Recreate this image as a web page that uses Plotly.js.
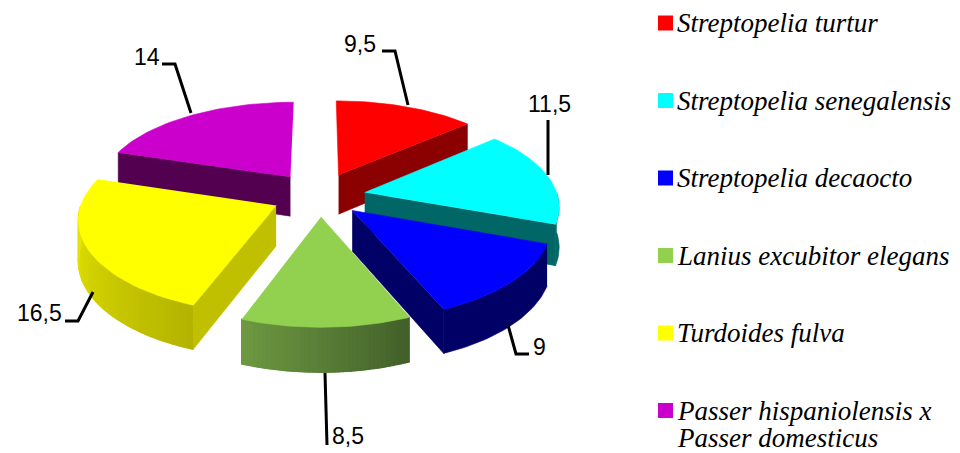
<!DOCTYPE html>
<html><head><meta charset="utf-8">
<script src="https://cdn.plot.ly/plotly-3.0.1.min.js"></script>
<style>html,body{margin:0;padding:0;background:#fff;overflow:hidden}</style>
</head><body><div id="chart" style="width:960px;height:453px"></div>
<script>
const categories = ["Streptopelia turtur","Streptopelia senegalensis","Streptopelia decaocto","Lanius excubitor elegans","Turdoides fulva","Passer hispaniolensis x<br>Passer domesticus"];
const values = [9.5,11.5,9,8.5,16.5,14];
const valueLabels = ["9,5","11,5","9","8,5","16,5","14"];
const topColors = ["#FF0000","#00FFFF","#0000FF","#92D050","#FFFF00","#CC00CC"];
const wallColors = ["#8B0000","#006666","#000066","#6B9440","#C0C000","#52004F"];
const rimLeft = ["#8B0000","#006666","#000066","#6F9A42","#E8E800","#52004F"];
const rimRight = ["#8B0000","#006666","#000066","#42602A","#B4B400","#52004F"];
// style of the projection
const C=[322,192], EXPLODE=0.21;
const nudge=[[0,0],[3,4],[0,5],[-2,5],[-9,5],[-8,0]];
const sx=w=>193+26*w, sy=w=>92+13*w, depth=w=>40+4*w;
const total=values.reduce((a,b)=>a+b,0);
const rad=Math.PI/180;
const traces=[];
function poly(pts,color,lw){traces.push({type:"scatter",mode:"lines",x:pts.map(p=>p[0]),y:pts.map(p=>p[1]),fill:"toself",fillcolor:color,line:{color:color,width:lw===undefined?0.6:lw},hoverinfo:"skip",showlegend:false});}
function mix(a,b,t){const p=s=>[1,3,5].map(i=>parseInt(s.substr(i,2),16));const A=p(a),B=p(b);return "rgb("+A.map((v,i)=>Math.round(v+(B[i]-v)*t)).join(",")+")";}
let cum=0; const slices=values.map((v,i)=>{const a=cum; cum+=v/total*360; return {i,a,b:cum,mid:(a+cum)/2};});
function slicePts(s){
  const ex=EXPLODE*Math.sin(s.mid*rad), ew=-EXPLODE*Math.cos(s.mid*rad);
  const apex=[ex,ew]; const rim=[]; const n=40;
  for(let k=0;k<=n;k++){const t=(s.a+(s.b-s.a)*k/n)*rad; rim.push([ex+Math.sin(t),ew-Math.cos(t),t]);}
  return {apex,rim};
}
[0,5,1,4,2,3].forEach(idx=>{
  const s=slices[idx]; const {apex,rim}=slicePts(s); const N=nudge[idx];
  const top=q=>[C[0]+N[0]+q[0]*sx(q[1]), C[1]+N[1]+q[1]*sy(q[1])];
  const bot=q=>{const p=top(q);return [p[0],p[1]+depth(q[1])];};
  if(Math.sin(s.a*rad)<0){const q=rim[0];poly([top(apex),top(q),bot(q),bot(apex)],wallColors[idx]);}
  if(Math.sin(s.b*rad)>0){const q=rim[rim.length-1];poly([top(apex),top(q),bot(q),bot(apex)],wallColors[idx]);}
  const vis=rim.filter(q=>Math.cos(q[2])<=0);
  if(vis.length>1){
    if(rimLeft[idx]===rimRight[idx]){
      poly([...vis.map(top),...vis.slice().reverse().map(bot)],rimLeft[idx]);
    } else {
      const a0=vis[0][2], a1=vis[vis.length-1][2];
      poly([...vis.map(top),...vis.slice().reverse().map(bot)],rimRight[idx]);
      for(let k=0;k<vis.length-1;k++){
        const q0=vis[k],q1=vis[k+1];
        const t=1-(q0[2]-a0)/(a1-a0);
        poly([top(q0),top(q1),bot(q1),bot(q0)],mix(rimLeft[idx],rimRight[idx],t),1.4);
      }
    }
  }
  poly([top(apex),...rim.map(top)],topColors[idx]);
});
const leaders=[[[382,51],[395,51],[408,105]],[[548,120],[548,175]],[[508,325],[516,354],[529,354]],[[325,373],[327,445]],[[93,292],[78,321],[65,321]],[[191,113],[175,64],[162,64]]];
leaders.forEach(l=>traces.push({type:"scatter",mode:"lines",x:l.map(p=>p[0]),y:l.map(p=>p[1]),line:{color:"#000",width:3},hoverinfo:"skip",showlegend:false}));
const labelPos=[[360,44],[549,104],[539,347],[348,436],[39,313],[147,57]];
const legendY=[23,100.5,178,255.5,333,410.5];
const annotations=[];
valueLabels.forEach((t,i)=>annotations.push({x:labelPos[i][0],y:labelPos[i][1],text:t,showarrow:false,xref:"x",yref:"y",font:{family:"Liberation Sans",size:23,color:"#000"}}));
categories.forEach((t,i)=>t.split("<br>").forEach((line,j)=>annotations.push({x:675,y:legendY[i]+27*j,text:"<i>"+line+"</i>",showarrow:false,xref:"x",yref:"y",xanchor:"left",yanchor:"middle",align:"left",font:{family:"Liberation Serif",size:27,color:"#000"}})));
categories.forEach((t,i)=>traces.push({type:"scatter",mode:"markers",x:[665.5],y:[legendY[i]],marker:{symbol:"square",size:15,color:topColors[i]},hoverinfo:"skip",showlegend:false}));
Plotly.newPlot("chart",traces,{width:960,height:453,margin:{l:0,r:0,t:0,b:0},paper_bgcolor:"#fff",plot_bgcolor:"#fff",showlegend:false,
 xaxis:{range:[0,960],visible:false,fixedrange:true},yaxis:{range:[453,0],visible:false,fixedrange:true},annotations},{displayModeBar:false,staticPlot:true});
</script></body></html>
